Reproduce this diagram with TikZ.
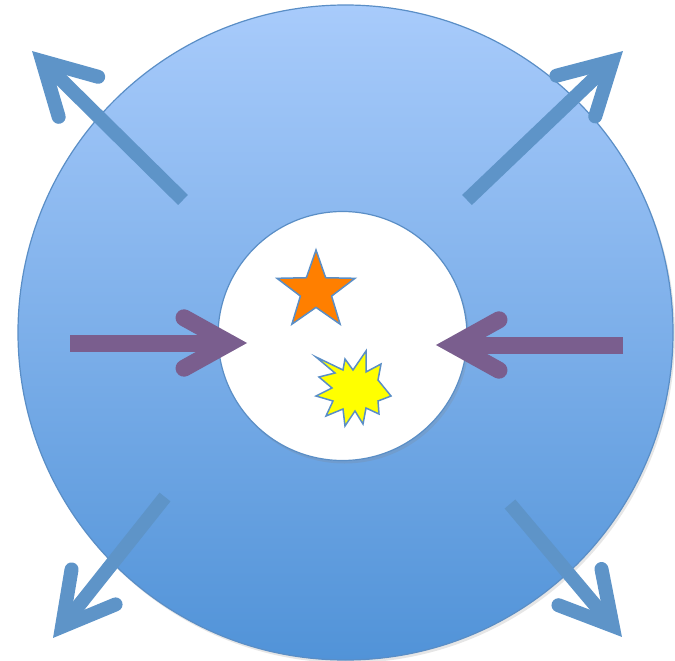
\documentclass[tikz,border=0pt]{standalone}
\usetikzlibrary{shapes.geometric, calc, shadows}
\definecolor{ringtop}{HTML}{A8CBFB}
\definecolor{ringbottom}{HTML}{5193D8}
\definecolor{ringedge}{HTML}{5A8EC6}
\definecolor{arrowblue}{HTML}{5E94C8}
\definecolor{arrowpurple}{HTML}{7A5E8E}
\definecolor{starorange}{HTML}{FF7F00}
\definecolor{burstyellow}{HTML}{FFFF00}
\tikzset{
  ringnode/.style={
    circle, minimum size=655pt, inner sep=0pt,
    draw=ringedge, line width=1.2pt,
    top color=ringtop, bottom color=ringbottom,
    drop shadow={opacity=0.2, shadow xshift=2pt, shadow yshift=-3pt}
  },
  corenode/.style={
    circle, minimum size=249pt, inner sep=0pt,
    fill=white, draw=ringedge, line width=1.2pt,
    drop shadow={opacity=0.2, shadow xshift=2pt, shadow yshift=-3pt}
  },
  starnode/.style={
    star, star points=5, star point ratio=2.5,
    minimum size=82pt, inner sep=0pt,
    fill=starorange, draw=ringedge, line width=1.5pt
  },
  outarrow/.style={line width=14pt, arrowblue},
  inarrow/.style={line width=17pt, arrowpurple},
  headline/.style={line cap=round, line join=miter, miter limit=10}
}
% shaft from (#1tail) and open barb head with its point at (#1tip)
% #2 = style, #3 = tip to vertex, #4 = barb length
\newcommand{\barbarrow}[4]{%
  \coordinate (#1base) at ($(#1tip)!#3!(#1tail)$);
  \draw[#2] (#1tail) -- (#1base);
  \draw[#2, headline] ($(#1base)!#4!29:(#1tail)$) -- (#1base)
    -- ($(#1base)!#4!-29:(#1tail)$);
}

\begin{document}
\begin{tikzpicture}[x=1pt, y=-1pt]
  \useasboundingbox (0,0) rectangle (675,661);

  % Outer ring and inner core
  \node[ringnode] (ring) at (345.5,332.5) {};
  \node[corenode] (core) at (342.5,336) {};

  % Star and burst inside the core
  \node[starnode] (star) at (316,291) {};
  \draw[fill=burstyellow, draw=ringedge, line width=1.5pt, line join=miter]
    (316,357) -- (343,370) -- (345,359) -- (353,370) -- (366,351) -- (366,372)
    -- (381,364) -- (378,380) -- (391,396) -- (378,401) -- (379,414) -- (366,408)
    -- (363,424) -- (355,411) -- (345,426) -- (343,409) -- (326,416) -- (333,401)
    -- (316,396) -- (332,388) -- (319,377) -- (335,373) -- cycle;

  % Arrow ends
  \coordinate (nwtail) at (183,200);
  \coordinate (nwtip) at (32,51);
  \coordinate (netail) at (467,200);
  \coordinate (netip) at (623,51);
  \coordinate (swtail) at (165,497);
  \coordinate (swtip) at (53,638);
  \coordinate (setail) at (510,504);
  \coordinate (setip) at (622,637);
  \coordinate (wtail) at (70,343);
  \coordinate (wtip) at (247,343);
  \coordinate (etail) at (623,345);
  \coordinate (etip) at (436,345);

  % Outward arrows
  \barbarrow{nw}{outarrow}{14.5pt}{58pt}
  \barbarrow{ne}{outarrow}{14.5pt}{58pt}
  \barbarrow{sw}{outarrow}{14.5pt}{58pt}
  \barbarrow{se}{outarrow}{14.5pt}{58pt}

  % Inward arrows
  \barbarrow{w}{inarrow}{17.5pt}{52pt}
  \barbarrow{e}{inarrow}{17.5pt}{52pt}

\end{tikzpicture}
\end{document}
